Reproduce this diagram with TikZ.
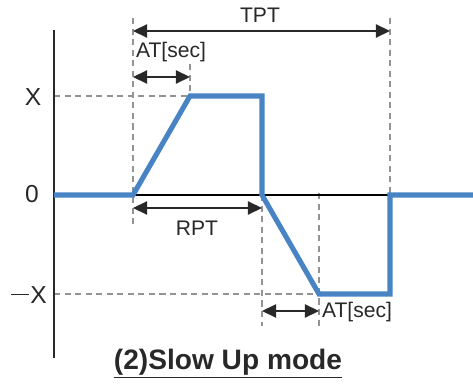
\documentclass[tikz,border=0pt]{standalone}
\usepackage{fontspec}
\setmainfont{Liberation Sans}
\usetikzlibrary{arrows.meta}
\definecolor{wave}{RGB}{72,132,196}
\definecolor{ink}{RGB}{40,40,40}
\tikzset{
  guide/.style={draw=gray!85, line width=0.7pt, dash pattern=on 3.5pt off 2.5pt},
  dimarrow/.style={draw=ink, line width=0.9pt, {Triangle[length=8pt,width=7.5pt]}-{Triangle[length=8pt,width=7.5pt]}},
  lbl/.style={font=\fontsize{12}{14}\selectfont, text=ink, inner sep=1pt},
  axlbl/.style={font=\fontsize{14}{16}\selectfont, text=ink, inner sep=1pt},
  wavepath/.style={draw=wave, line width=2.9pt, line join=miter},
}
\begin{document}
\begin{tikzpicture}[x=0.02cm,y=-0.02cm]
\useasboundingbox (0,0) rectangle (473,385);
% key points
\coordinate (o) at (54,195);
\coordinate (a) at (133,195);
\coordinate (b) at (190,96);
\coordinate (c) at (262,96);
\coordinate (d) at (262,195);
\coordinate (e) at (319,294);
\coordinate (f) at (390,294);
\coordinate (g) at (390,195);
\coordinate (h) at (473,195);
\coordinate (axtop) at (54,30);
\coordinate (axbot) at (54,358);
% guide lines
\draw[guide] (133,18) -- (133,224);
\draw[guide] (190,64) -- (b);
\draw[guide] (390,18) -- (g);
\draw[guide] (d) -- (262,326);
\draw[guide] (319,193) -- (319,326);
\draw[guide] (54,96) -- (b);
\draw[guide] (54,294) -- (e);
% axes
\draw[ink, line width=1pt] (axtop) -- (axbot);
\draw[black, line width=1pt] (o) -- (g);
% waveform
\draw[wavepath] (o) -- (a) -- (b) -- (c) -- (d) -- (e) -- (f) -- (g) -- (h);
% dimension arrows
\draw[dimarrow] (133,31) -- (390,31);
\draw[dimarrow] (133,77) -- (190,77);
\draw[dimarrow] (133,208) -- (262,208);
\draw[dimarrow] (262,311) -- (319,311);
% labels
\node[lbl] (tpt) at (260,15) {TPT};
\node[lbl] (at1) at (171,52) {AT[sec]};
\node[lbl] (rpt) at (197,228) {RPT};
\node[lbl, anchor=west] (at2) at (320,312) {AT[sec]};
\node[axlbl] (lx) at (33,97) {X};
\node[axlbl] (l0) at (32,194) {0};
\node[axlbl] (lmx) at (29,295) {\rule[0.33em]{0.72em}{0.065em}\kern0.05em X};
\node[font=\fontsize{16}{18}\selectfont\bfseries, text=ink] (title) at (228,364) {\underline{(2)Slow Up mode}};
\end{tikzpicture}
\end{document}
